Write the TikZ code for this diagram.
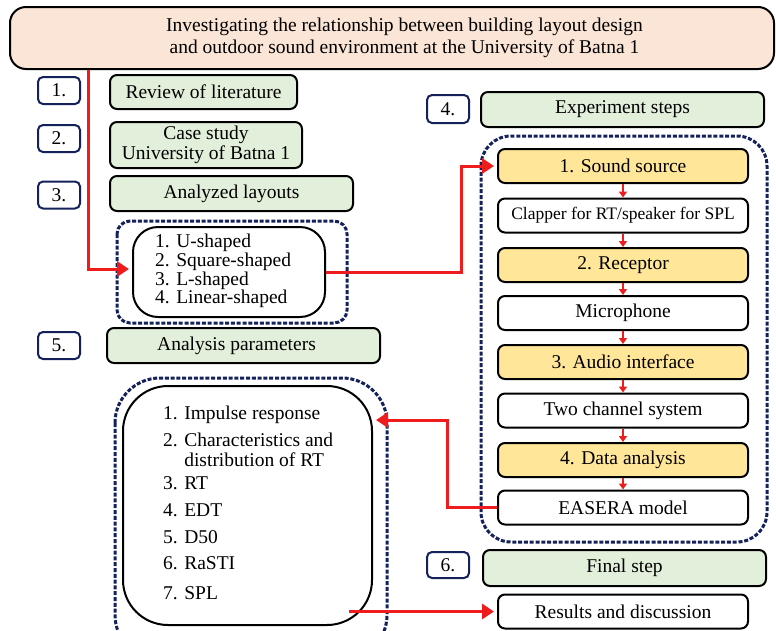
\documentclass[tikz,border=0pt]{standalone}
\usepackage{fontspec}
\setmainfont{Liberation Serif}
\newfontfamily\tnr{Liberation Serif}
\usetikzlibrary{arrows.meta}
\definecolor{navy}{HTML}{14215A}
\definecolor{peach}{HTML}{FBE5D6}
\definecolor{lgreen}{HTML}{E2EFDA}
\definecolor{lyellow}{HTML}{FFE699}
\definecolor{ared}{HTML}{EE1C1C}
\begin{document}
\begin{tikzpicture}[x=1pt,y=-1pt,
  every node/.style={font=\tnr\fontsize{19.5}{22}\selectfont, inner sep=0pt},
  numbox/.style={draw=navy, line width=2pt, rounded corners=5pt, fill=white, minimum width=42pt, minimum height=27pt},
  gbox/.style={draw=black, line width=2pt, rounded corners=7pt, fill=lgreen, minimum height=35pt},
  ybox/.style={draw=black, line width=2pt, rounded corners=7pt, fill=lyellow, minimum width=250pt, minimum height=34pt},
  wbox/.style={draw=black, line width=2pt, rounded corners=7pt, fill=white, minimum width=250pt, minimum height=34pt},
  dbox/.style={draw=navy, line width=3pt, dash pattern=on 4pt off 1.8pt},
  redarrow/.style={draw=ared, line width=3pt, -{Triangle[length=12pt,width=15pt]}, shorten >=3pt},
  smallarrow/.style={draw=ared, line width=1.6pt, -{Triangle[length=6pt,width=8pt]}}
]
\useasboundingbox (0,0) rectangle (776,630);

% dashed groups
\draw[dbox, rounded corners=13pt] (117,221) rectangle (347,323);
\draw[dbox, rounded corners=30pt] (481,136) rectangle (767,542);
\draw[dbox, rounded corners=45pt] (115,378) rectangle (387,660);

% title
\node[draw=black, line width=2pt, rounded corners=16pt, fill=peach, minimum width=764pt, minimum height=62pt, align=center] (title) at (392,38)
  {\hspace*{25pt}Investigating the relationship between building layout design\\\hspace*{25pt}and outdoor sound environment at the University of Batna 1};

% numbered labels
\node[numbox] (n1) at (59,90.5) {1.};
\node[numbox] (n2) at (59,138.5) {2.};
\node[numbox] (n3) at (59,195) {3.};
\node[numbox] (n5) at (59,345.5) {5.};
\node[numbox, minimum height=28pt] (n4) at (448,109) {4.};
\node[numbox, minimum height=26pt] (n6) at (448,565) {6.};

% green headings
\node[gbox, minimum width=187pt, minimum height=34pt] (g1) at (203.5,92) {Review of literature};
\node[gbox, minimum width=192pt, minimum height=46pt, align=center, font=\tnr\fontsize{19.5}{20}\selectfont] (g2) at (206,145) {Case study\\University of Batna 1};
\node[gbox, minimum width=243pt] (g3) at (231.5,193.5) {Analyzed layouts};
\node[gbox, minimum width=273pt] (g5) at (243.5,345.5) {Analysis parameters\hspace*{14pt}};
\node[gbox, minimum width=283pt] (g4) at (622.5,109.5) {Experiment steps};
\node[gbox, minimum width=283pt, minimum height=36pt] (g6) at (624.5,568) {Final step};

% layouts
\node[draw=black, line width=2pt, rounded corners=25pt, fill=white, minimum width=192pt, minimum height=90pt] (L1) at (229,272) {};
\node[anchor=west, align=left, font=\tnr\fontsize{19.5}{18.7}\selectfont] (L1t) at (155,271)
  {1. U-shaped\\2. Square-shaped\\3. L-shaped\\4. Linear-shaped};

% parameters
\node[draw=black, line width=2pt, rounded corners=45pt, fill=white, minimum width=249pt, minimum height=239pt] (L2) at (247.5,505.5) {};
\node[anchor=west, align=left, font=\tnr\fontsize{19.5}{20}\selectfont] (L2t) at (163,503)
  {1. Impulse response\\[7pt]2. Characteristics and\\\phantom{2. }distribution of RT\\[3pt]3. RT\\[7pt]4. EDT\\[7pt]5. D50\\[6pt]6. RaSTI\\[10pt]7. SPL};

% experiment steps
\node[ybox] (s1) at (623,166) {1. Sound source};
\node[wbox, font=\tnr\fontsize{17.5}{20}\selectfont] (c1) at (623,215.5) {Clapper for RT/speaker for SPL};
\node[ybox] (s2) at (623,265) {2. Receptor};
\node[wbox] (c2) at (623,313) {Microphone};
\node[ybox] (s3) at (623,362) {3. Audio interface};
\node[wbox] (c3) at (623,410.5) {Two channel system};
\node[ybox] (s4) at (623,460) {4. Data analysis};
\node[wbox] (c4) at (623,507.5) {EASERA model};
\node[wbox] (res) at (623,611.5) {Results and discussion};

% small arrows
\draw[smallarrow] (s1.south) -- (c1.north);
\draw[smallarrow] (c1.south) -- (s2.north);
\draw[smallarrow] (s2.south) -- (c2.north);
\draw[smallarrow] (c2.south) -- (s3.north);
\draw[smallarrow] (s3.south) -- (c3.north);
\draw[smallarrow] (c3.south) -- (s4.north);
\draw[smallarrow] (s4.south) -- (c4.north);

% red connectors
\draw[redarrow] ([xshift=79pt]title.south west) |- ([yshift=3pt]L1.west);
\draw[redarrow] (L1.east) -- ++(135,0) |- (s1.west);
\draw[redarrow] (c4.west) -- ++(-50,0) |- ([yshift=85.5pt]L2.east);
\draw[redarrow] ([xshift=-148pt]res.west) -- (res.west);
\end{tikzpicture}
\end{document}
